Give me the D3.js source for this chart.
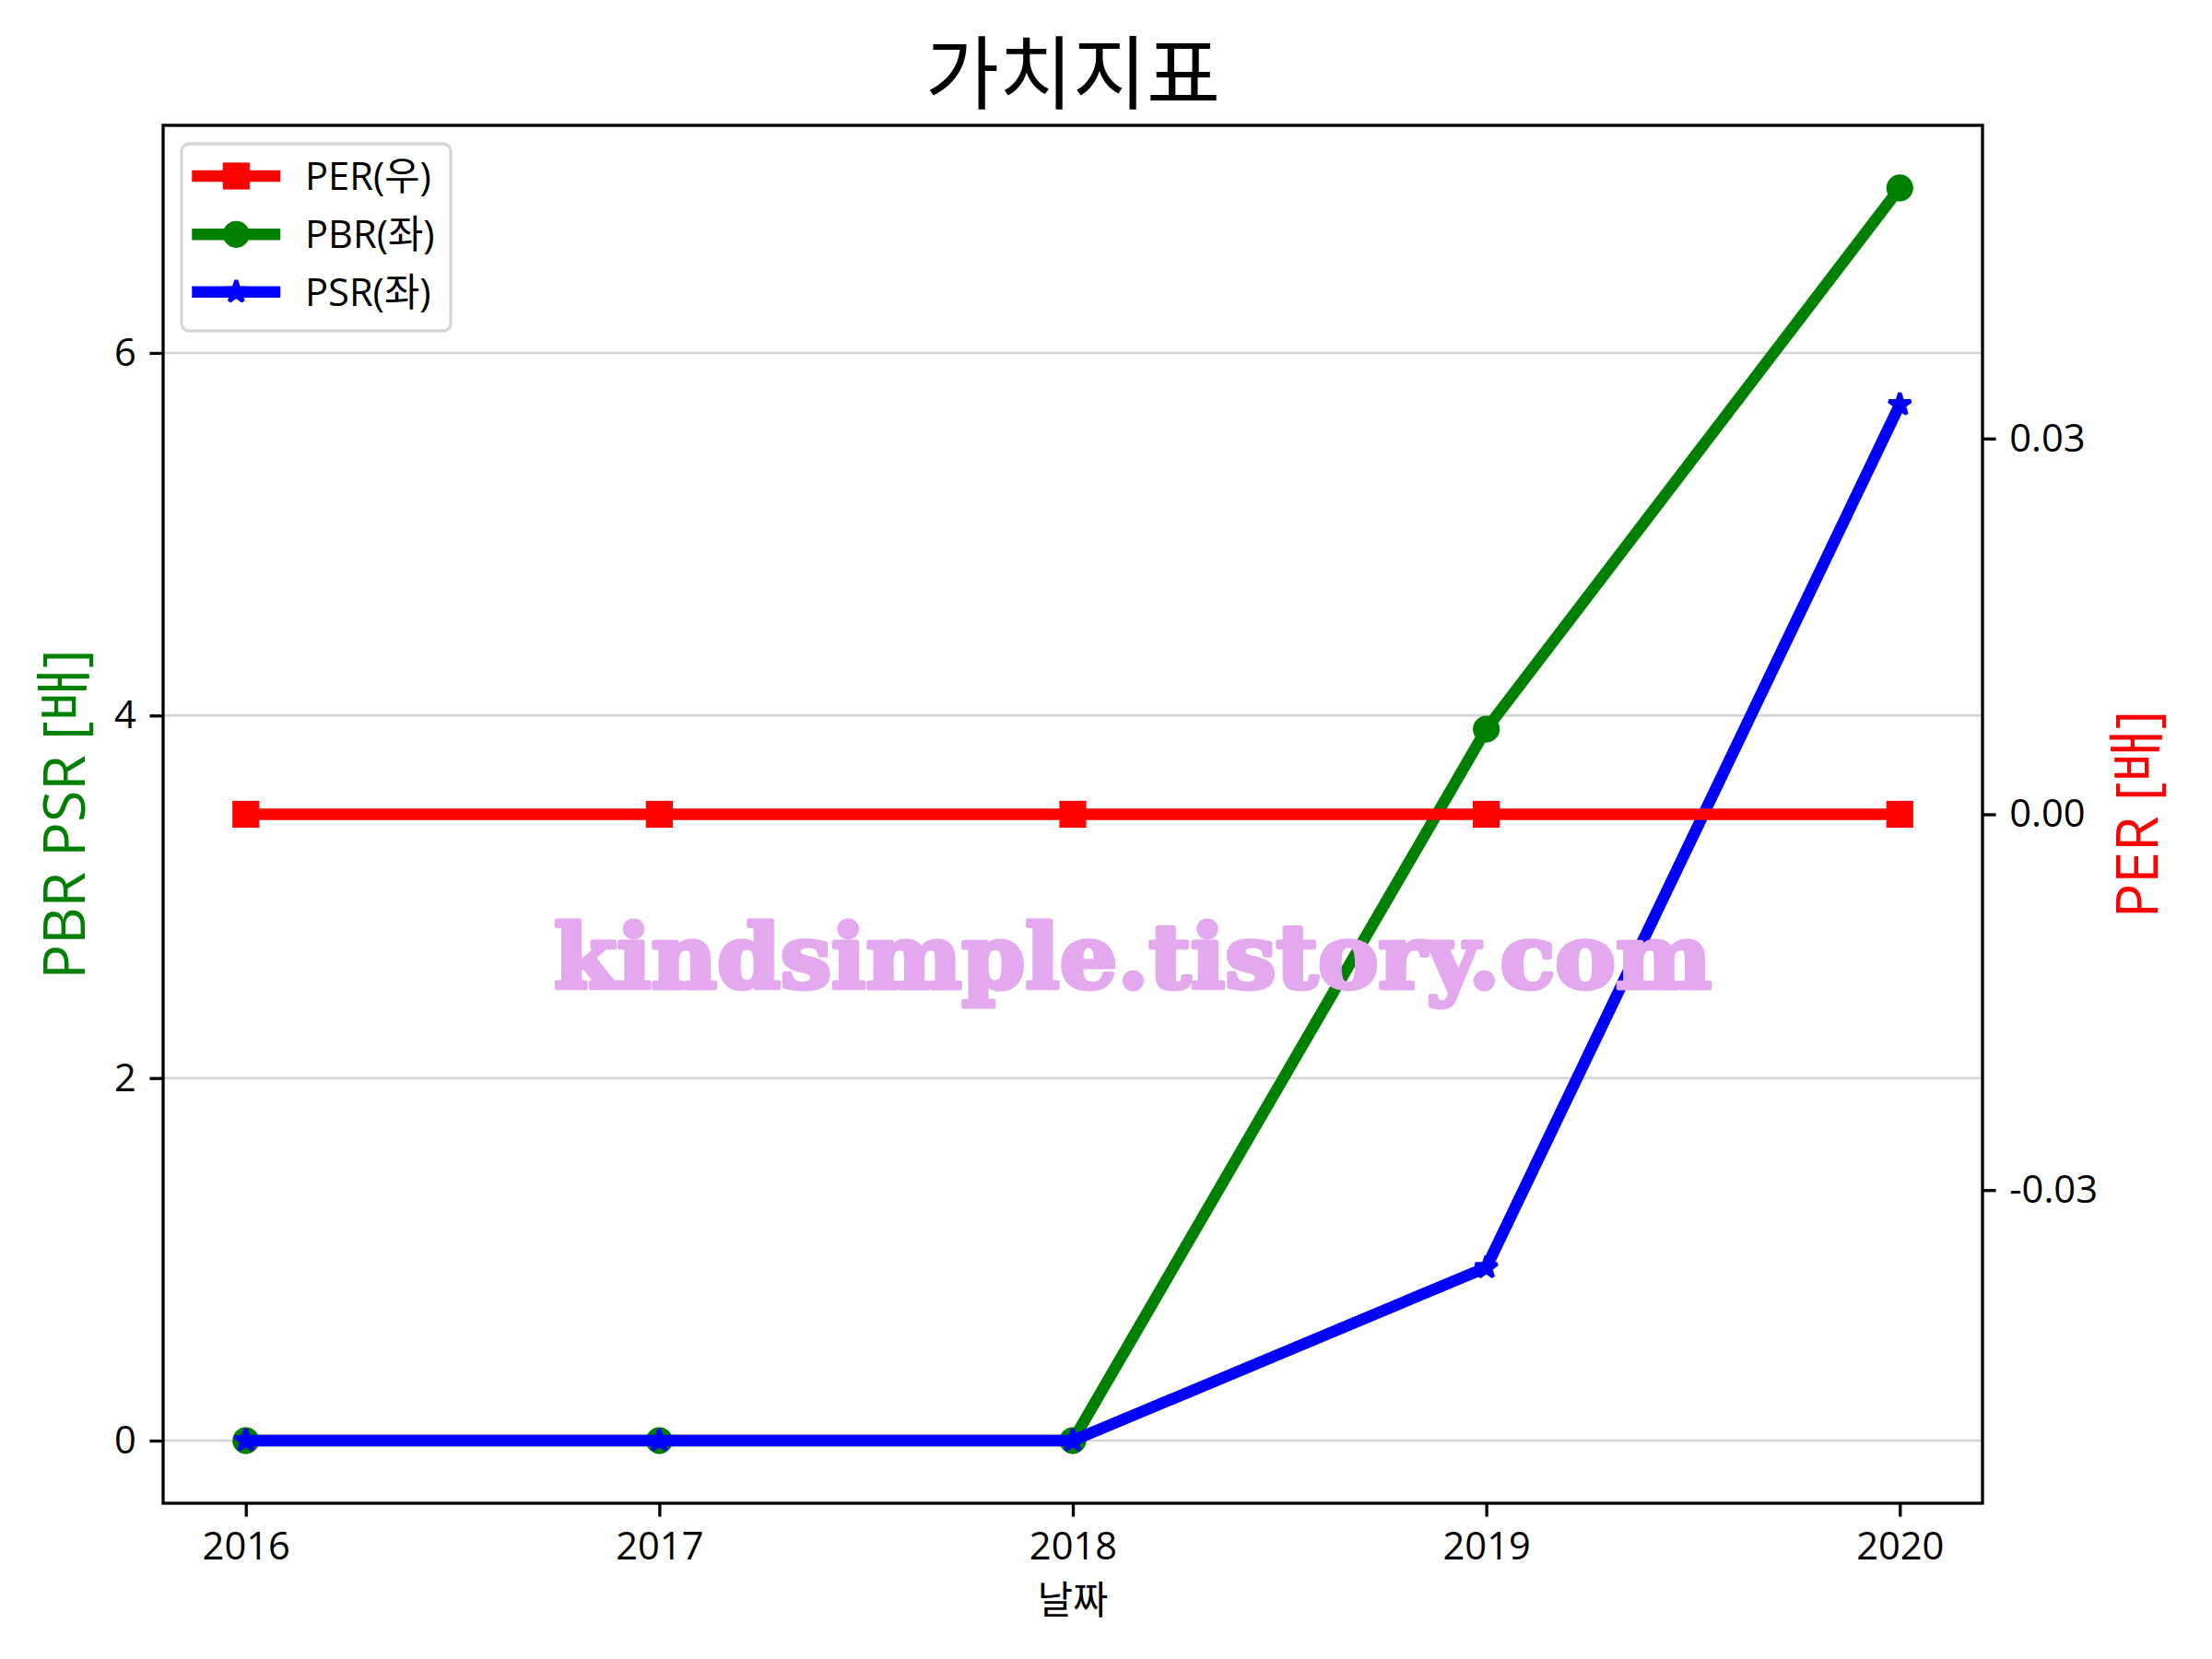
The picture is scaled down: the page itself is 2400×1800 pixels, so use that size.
<!DOCTYPE html>
<html>
<head>
<meta charset="utf-8">
<script src="https://cdn.jsdelivr.net/npm/d3@7"></script>
<style>
  html, body { margin: 0; padding: 0; background: #ffffff; }
  svg { display: block; }
  text { font-family: "Open Sans", "Noto Sans CJK KR", sans-serif; }
</style>
</head>
<body>
<script>
// ---- data ----
const years = [2016, 2017, 2018, 2019, 2020];
const perValues = [0, 0, 0, 0, 0];
const pbrValues = [0, 0, 0, 3.925, 6.91];
const psrValues = [0, 0, 0, 0.955, 5.715];
const leftTicks = [0, 2, 4, 6];
const rightTicks = [-0.03, 0.0, 0.03];
const rightTickLabels = ["-0.03", "0.00", "0.03"];
const seriesNames = ["PER(우)", "PBR(좌)", "PSR(좌)"];
const titleText = "가치지표";
const xLabelText = "날짜";
const leftLabelText = "PBR PSR [배]";
const rightLabelText = "PER [배]";
const watermarkText = "kindsimple.tistory.com";

// ---- layout ----
const W = 2400, H = 1800;
const L = 177, R = 2151, T = 136, B = 1631;
const pt = 300 / 72;
const lw = 3 * pt;         // line width
const ms = 6 * pt;         // marker size
const mew = 1 * pt;        // marker edge width

const svg = d3.select("body").append("svg").attr("width", W).attr("height", H);
svg.append("rect").attr("width", W).attr("height", H).attr("fill", "#fff");

const x = d3.scaleLinear().domain([2015.8, 2020.2]).range([L, R]);
const allLeft = pbrValues.concat(psrValues);
const lmin = d3.min(allLeft), lmax = d3.max(allLeft);
const lpad = (lmax - lmin) * 0.05;
const yL = d3.scaleLinear().domain([lmin - lpad, lmax + lpad]).range([B, T]);
const yR = d3.scaleLinear().domain([-0.055, 0.055]).range([B, T]);

// grid (left axis)
svg.append("g").selectAll("line").data(leftTicks).join("line")
  .attr("x1", L).attr("x2", R)
  .attr("y1", d => yL(d)).attr("y2", d => yL(d))
  .attr("stroke", "#d3d3d3").attr("stroke-width", 2.5);

// markers
function starPath(r) {
  const inner = r * 0.381966;
  let p = "";
  for (let i = 0; i < 10; i++) {
    const rr = i % 2 === 0 ? r : inner;
    const a = -Math.PI / 2 + i * Math.PI / 5;
    p += (i === 0 ? "M" : "L") + (rr * Math.cos(a)).toFixed(2) + "," + (rr * Math.sin(a)).toFixed(2);
  }
  return p + "Z";
}
function drawMarker(g, type, cx, cy, color) {
  if (type === "circle") {
    g.append("circle").attr("cx", cx).attr("cy", cy).attr("r", ms / 2)
      .attr("fill", color).attr("stroke", color).attr("stroke-width", mew);
  } else if (type === "square") {
    g.append("rect").attr("x", cx - ms / 2).attr("y", cy - ms / 2)
      .attr("width", ms).attr("height", ms)
      .attr("fill", color).attr("stroke", color).attr("stroke-width", mew);
  } else {
    g.append("path").attr("d", starPath(ms / 2))
      .attr("transform", `translate(${cx},${cy})`)
      .attr("fill", color).attr("stroke", color).attr("stroke-width", mew)
      .attr("stroke-linejoin", "bevel");
  }
}

function drawSeries(values, yScale, color, marker) {
  const g = svg.append("g");
  const line = d3.line().x((d, i) => x(years[i])).y(d => yScale(d));
  g.append("path").datum(values).attr("d", line)
    .attr("fill", "none").attr("stroke", color).attr("stroke-width", lw)
    .attr("stroke-linejoin", "round").attr("stroke-linecap", "square");
  values.forEach((v, i) => drawMarker(g, marker, x(years[i]), yScale(v), color));
}

drawSeries(pbrValues, yL, "#008000", "circle");
drawSeries(psrValues, yL, "#0000ff", "star");
drawSeries(perValues, yR, "#ff0000", "square");

// axes
const tickFont = 10 * pt;
const xAxis = d3.axisBottom(x).tickValues(years).tickFormat(d3.format("d"))
  .tickSize(3.5 * pt).tickPadding(3.5 * pt + 2);
const gx = svg.append("g").attr("transform", `translate(0,${B})`).call(xAxis);
const yAxisL = d3.axisLeft(yL).tickValues(leftTicks).tickFormat(d3.format("d"))
  .tickSize(3.5 * pt).tickPadding(3.5 * pt);
const gyl = svg.append("g").attr("transform", `translate(${L},0)`).call(yAxisL);
const yAxisR = d3.axisRight(yR).tickValues(rightTicks)
  .tickFormat((d, i) => rightTickLabels[i])
  .tickSize(3.5 * pt).tickPadding(3.5 * pt);
const gyr = svg.append("g").attr("transform", `translate(${R},0)`).call(yAxisR);
[gx, gyl, gyr].forEach(g => {
  g.select(".domain").remove();
  g.selectAll(".tick line").attr("stroke", "#000").attr("stroke-width", 0.8 * pt);
  g.selectAll(".tick text").attr("fill", "#000")
    .style("font-family", "'Open Sans', 'Noto Sans CJK KR', sans-serif")
    .style("font-size", tickFont + "px");
});

// frame
svg.append("rect").attr("x", L).attr("y", T).attr("width", R - L).attr("height", B - T)
  .attr("fill", "none").attr("stroke", "#000").attr("stroke-width", 0.8 * pt);

// legend
const lg = svg.append("g");
lg.append("rect").attr("x", 197).attr("y", 156).attr("width", 292).attr("height", 203)
  .attr("rx", 8).attr("ry", 8)
  .attr("fill", "#fff").attr("fill-opacity", 0.8)
  .attr("stroke", "#d6d6d6").attr("stroke-width", 3.3);
const legItems = [
  {name: seriesNames[0], color: "#ff0000", marker: "square"},
  {name: seriesNames[1], color: "#008000", marker: "circle"},
  {name: seriesNames[2], color: "#0000ff", marker: "star"}
];
const rowY = [191, 254.3, 316.7];
legItems.forEach((it, i) => {
  const cy = rowY[i];
  lg.append("line").attr("x1", 214.5).attr("x2", 298).attr("y1", cy).attr("y2", cy)
    .attr("stroke", it.color).attr("stroke-width", lw).attr("stroke-linecap", "square");
  drawMarker(lg, it.marker, 256.3, cy, it.color);
  lg.append("text").attr("x", 331).attr("y", cy + 15)
    .style("font-size", tickFont + "px").attr("fill", "#000").text(it.name);
});

// labels
svg.append("text").attr("x", (L + R) / 2).attr("y", 112)
  .attr("text-anchor", "middle")
  .style("font-family", "'Noto Sans CJK KR', sans-serif")
  .style("font-size", "87px").attr("fill", "#000").text(titleText);
svg.append("text").attr("x", (L + R) / 2).attr("y", 1751)
  .attr("text-anchor", "middle")
  .style("font-family", "'Noto Sans CJK KR', sans-serif")
  .style("font-size", tickFont + "px").attr("fill", "#000").text(xLabelText);
svg.append("text")
  .attr("transform", `translate(92,${(T + B) / 2}) rotate(-90)`)
  .attr("text-anchor", "middle")
  .style("font-size", (15 * pt) + "px").attr("fill", "#008000").text(leftLabelText);
svg.append("text")
  .attr("transform", `translate(2341,${(T + B) / 2}) rotate(-90)`)
  .attr("text-anchor", "middle")
  .style("font-size", (15 * pt) + "px").attr("fill", "#ff0000").text(rightLabelText);

// watermark
svg.append("text").attr("x", 601).attr("y", 1072)
  .attr("textLength", 1256).attr("lengthAdjust", "spacingAndGlyphs")
  .style("font-family", "'DejaVu Serif', serif").style("font-weight", "bold")
  .style("font-size", "96px")
  .attr("fill", "#e3a8ee").attr("stroke", "#e3a8ee").attr("stroke-width", 5)
  .attr("stroke-linejoin", "round")
  .text(watermarkText);
</script>
</body>
</html>
